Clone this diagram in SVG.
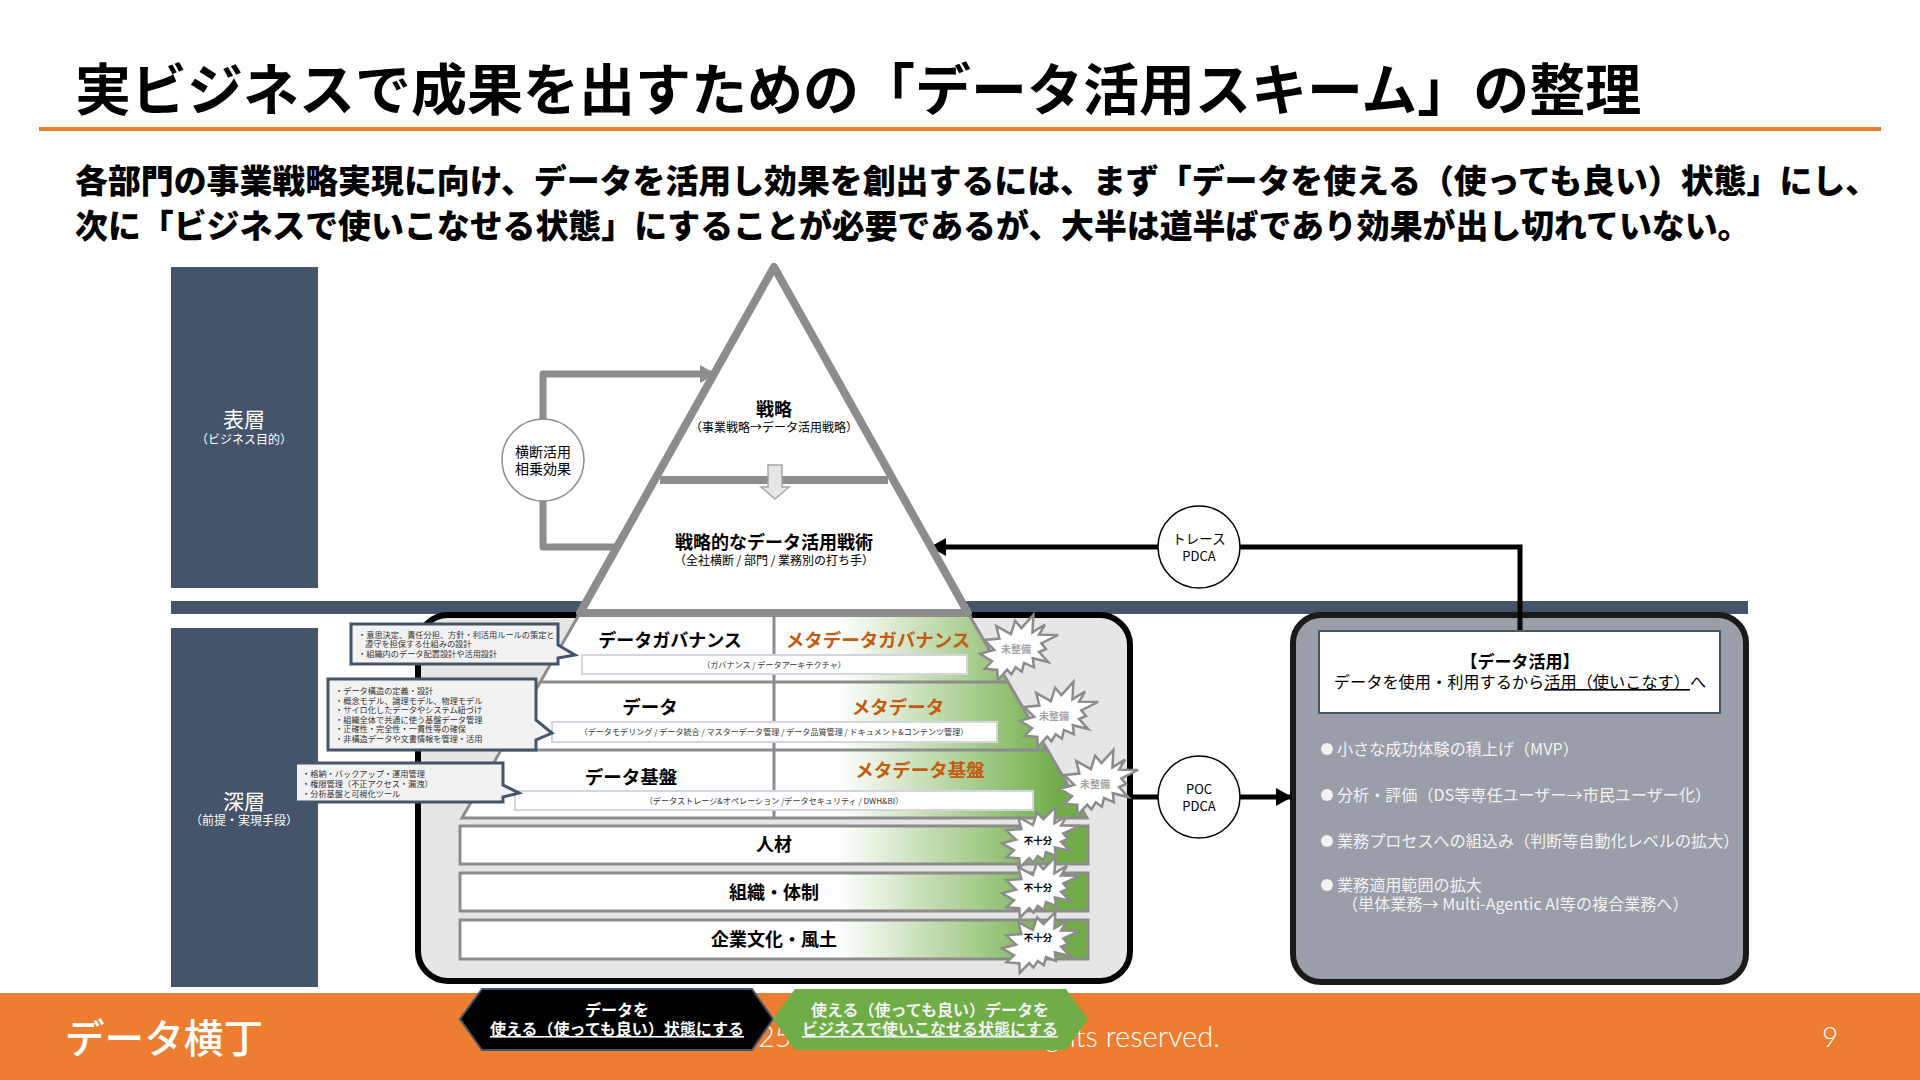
<svg xmlns="http://www.w3.org/2000/svg" width="1920" height="1080" viewBox="0 0 1920 1080">
<style>
text{font-family:"Noto Sans CJK JP","Noto Sans",sans-serif;fill:#000}
.c{text-anchor:middle}
.b{font-weight:700}
.w{fill:#fff}
.side{fill:#44546A}
.lay{stroke:#8c8c8c;stroke-width:3}
.sub{fill:#fff;stroke:#d3d6de;stroke-width:2}
.subt{font-size:8.1px;fill:#333;text-anchor:middle}
.call{fill:#f2f2f2;stroke:#44546A;stroke-width:3}
.callt{font-size:8.2px;fill:#333}
.meta{font-size:18.5px;font-weight:700;fill:#C55A11;text-anchor:middle}
.lt{font-size:18.5px;font-weight:700;text-anchor:middle}
.burst{fill:#fff;stroke:#8c8c8c;stroke-width:2.5}
.circ{fill:#fff;stroke:#000;stroke-width:1.5}
.gl{fill:none;stroke:#8c8c8c;stroke-width:7;stroke-linejoin:round}
.kl{fill:none;stroke:#000;stroke-width:5}
.bl{font-size:16.1px;fill:#f2f2f2}
.lat{font-family:Lato,"Open Sans",sans-serif;font-weight:300}
</style>
<defs>
<linearGradient id="gr" gradientUnits="userSpaceOnUse" x1="838" y1="0" x2="1060" y2="0">
<stop offset="0" stop-color="#fff"/><stop offset="1" stop-color="#70AD47"/>
</linearGradient>
<polygon id="burst" vector-effect="non-scaling-stroke" points="11462,4342 14790,0 14525,5777 18007,3172 16380,6532 21600,6645 16985,9402 18270,11290 16380,12310 18877,15632 14640,14350 14942,17370 12180,15935 11612,18842 9872,17370 8700,19712 7527,18125 4917,21600 4805,18240 1285,17825 3330,15370 0,12877 3935,11592 1172,8270 5372,7817 4502,3625 8550,6382 9722,1887"/>
<marker id="ka" markerUnits="userSpaceOnUse" markerWidth="20" markerHeight="20" refX="16" refY="9" orient="auto"><path d="M0,0L16,9L0,18z" fill="#000"/></marker>
<marker id="ga" markerUnits="userSpaceOnUse" markerWidth="20" markerHeight="20" refX="16" refY="9" orient="auto"><path d="M0,0L16,9L0,18z" fill="#8c8c8c"/></marker>
</defs>
<rect width="1920" height="1080" fill="#fff"/>

<g id="header">
<text x="75" y="110" font-size="56" font-weight="700">実ビジネスで成果を出すための「データ活用スキーム」の整理</text>
<rect x="39" y="127" width="1842" height="4" fill="#ED7D31"/>
<text x="75" y="193" font-size="32.9" font-weight="900">各部門の事業戦略実現に向け、データを活用し効果を創出するには、まず「データを使える（使っても良い）状態」にし、</text>
<text x="75" y="238" font-size="32.9" font-weight="900">次に「ビジネスで使いこなせる状態」にすることが必要であるが、大半は道半ばであり効果が出し切れていない。</text>
</g>

<g id="footer">
<rect x="0" y="993" width="1920" height="87" fill="#ED7D31"/>
<text x="65" y="1053" font-size="40" font-weight="500" class="w" textLength="198" lengthAdjust="spacingAndGlyphs">データ横丁</text>
<text x="758" y="1047" font-size="29" class="w lat">25</text>
<text x="1220" y="1047" font-size="29" class="w lat" style="text-anchor:end">rights reserved.</text>
<text x="1830" y="1047" font-size="28" class="w c lat">9</text>
</g>

<g id="layer-surface">
<rect class="side" x="171" y="267" width="147" height="321"/>
<text x="244" y="427" font-size="21" class="w c">表層</text>
<text x="244" y="444" font-size="12" class="w c">（ビジネス目的）</text>
</g>
<g id="layer-deep">
<rect class="side" x="171" y="628" width="147" height="359"/>
<text x="244" y="809" font-size="21" class="w c">深層</text>
<text x="244" y="825" font-size="12" class="w c">（前提・実現手段）</text>
</g>
<rect id="divider" class="side" x="171" y="601" width="1577" height="13"/>

<g id="foundation-panel">
<rect x="418" y="615" width="712" height="366" rx="30" fill="#e7e6e6" stroke="#000" stroke-width="6"/>
</g>

<g id="data-panel">
<rect x="1293" y="615" width="453" height="367" rx="28" fill="#9a9ea9" stroke="#1a1a1a" stroke-width="6"/>
</g>

<g id="connectors">
<path class="gl" d="M543,419V374H716" marker-end="url(#ga)"/>
<path class="gl" d="M543,501V547H622"/>
<path class="kl" d="M1520,631V547H930" marker-end="url(#ka)"/>
<path class="kl" d="M1130,797H1292" marker-end="url(#ka)"/>
</g>

<g id="layers">
<polygon points="580,613 968,613 1007,682 540,682" fill="url(#gr)"/>
<polygon points="540,682 1007,682 1047,750 501,750" fill="url(#gr)"/>
<polygon points="501,750 1047,750 1087,818 462,818" fill="url(#gr)"/>
<path class="lay" fill="none" d="M580,613L462,818H1087L968,613M540,682H1007M501,750H1047M774,613V818"/>
</g>

<g id="pyramid">
<polygon points="774,267 968,613 580,613" fill="#fff" stroke="#8c8c8c" stroke-width="8" stroke-linejoin="round"/>
<line x1="660" y1="480" x2="888" y2="480" stroke="#8c8c8c" stroke-width="8"/>
<polygon points="768,465 782,465 782,487 789,487 775,499 761,487 768,487" fill="#e7e6e6" stroke="#a6a6a6" stroke-width="1.5"/>
<text x="774" y="416" font-size="18" font-weight="700" class="c">戦略</text>
<text x="774" y="432" font-size="12" class="c" fill="#333">（事業戦略→データ活用戦略）</text>
<text x="774" y="549" font-size="18" font-weight="700" class="c">戦略的なデータ活用戦術</text>
<text x="774" y="565" font-size="12" class="c">（全社横断 / 部門 / 業務別の打ち手）</text>
</g>

<g id="row-governance">
<rect class="sub" x="582" y="655" width="385" height="19"/>
<text x="670" y="647" class="lt" style="font-size:18px">データガバナンス</text>
<text x="878" y="647" class="meta">メタデータガバナンス</text>
<text x="774" y="668" class="subt">（ガバナンス / データアーキテクチャ）</text>
</g>
<g id="row-data">
<rect class="sub" x="552" y="722" width="445" height="20"/>
<text x="650" y="714" class="lt">データ</text>
<text x="898" y="714" class="meta">メタデータ</text>
<text x="774" y="735" class="subt">（データモデリング / データ統合 / マスターデータ管理 / データ品質管理 / ドキュメント&amp;コンテンツ管理）</text>
</g>
<g id="row-platform">
<rect class="sub" x="515" y="791" width="518" height="19"/>
<text x="631" y="784" class="lt">データ基盤</text>
<text x="920" y="777" class="meta">メタデータ基盤</text>
<text x="774" y="804" class="subt">（データストレージ&amp;オペレーション /データセキュリティ / DWH&amp;BI）</text>
</g>

<g id="bar-people">
<rect class="lay" fill="url(#gr)" x="460" y="826" width="628" height="38"/>
<text x="774" y="851" font-size="18" font-weight="700" class="c">人材</text>
</g>
<g id="bar-org">
<rect class="lay" fill="url(#gr)" x="460" y="873" width="628" height="38"/>
<text x="774" y="899" font-size="18" font-weight="700" class="c">組織・体制</text>
</g>
<g id="bar-culture">
<rect class="lay" fill="url(#gr)" x="460" y="920" width="628" height="39"/>
<text x="774" y="946" font-size="18" font-weight="700" class="c">企業文化・風土</text>
</g>

<g id="burst-1"><use href="#burst" class="burst" transform="translate(980,615) scale(.00361,.00301)"/><text x="1016" y="653" font-size="10" font-weight="700" style="fill:#a6a6a6" class="c">未整備</text></g>
<g id="burst-2"><use href="#burst" class="burst" transform="translate(1020,682) scale(.00361,.00301)"/><text x="1054" y="720" font-size="10" font-weight="700" style="fill:#a6a6a6" class="c">未整備</text></g>
<g id="burst-3"><use href="#burst" class="burst" transform="translate(1060,750) scale(.00361,.00301)"/><text x="1095" y="788" font-size="10" font-weight="700" style="fill:#a6a6a6" class="c">未整備</text></g>
<g id="burst-4"><use href="#burst" class="burst" transform="translate(1002,807) scale(.00361,.00282)"/><text x="1038" y="844" font-size="9.5" font-weight="700" class="c">不十分</text></g>
<g id="burst-5"><use href="#burst" class="burst" transform="translate(1002,857) scale(.00361,.00282)"/><text x="1038" y="891" font-size="9.5" font-weight="700" class="c">不十分</text></g>
<g id="burst-6"><use href="#burst" class="burst" transform="translate(1002,912) scale(.00361,.00282)"/><text x="1038" y="941" font-size="9.5" font-weight="700" class="c">不十分</text></g>

<g id="callout-governance">
<polygon class="call" points="351,624 558,624 558,645 575,655 558,658 558,664 351,664"/>
<text class="callt" x="358" y="638">・意思決定、責任分担、方針・利活用ルールの策定と</text>
<text class="callt" x="365" y="647">遵守を担保する仕組みの設計</text>
<text class="callt" x="358" y="657">・組織内のデータ配置設計や活用設計</text>
</g>
<g id="callout-data">
<polygon class="call" points="328,679 536,679 536,720 552,733 536,740 536,750 328,750"/>
<text class="callt" x="335" y="694">・データ構造の定義・設計</text>
<text class="callt" x="335" y="703.500">・概念モデル、論理モデル、物理モデル</text>
<text class="callt" x="335" y="713">・サイロ化したデータやシステム紐づけ</text>
<text class="callt" x="335" y="722.500">・組織全体で共通に使う基盤データ管理</text>
<text class="callt" x="335" y="732">・正確性・完全性・一貫性等の確保</text>
<text class="callt" x="335" y="741.500">・非構造データや文書情報を管理・活用</text>
</g>
<g id="callout-platform">
<polygon points="297,763 503,763 503,785 519,793 503,797 503,802 297,802" fill="#f2f2f2"/>
<path fill="none" stroke="#44546A" stroke-width="3" d="M297,763H503V785L519,793L503,797V802H297"/>
<text class="callt" x="302" y="777">・格納・バックアップ・運用管理</text>
<text class="callt" x="302" y="787">・権限管理（不正アクセス・漏洩）</text>
<text class="callt" x="302" y="797">・分析基盤と可視化ツール</text>
</g>

<g id="node-synergy">
<circle class="circ" cx="543" cy="460" r="41" style="stroke:#8c8c8c"/>
<text x="543" y="457" font-size="14" class="c">横断活用</text>
<text x="543" y="474" font-size="14" class="c">相乗効果</text>
</g>
<g id="node-trace">
<circle class="circ" cx="1199" cy="547" r="41"/>
<text x="1199" y="544" font-size="13.5" class="c">トレース</text>
<text x="1199" y="561" font-size="13" class="c">PDCA</text>
</g>
<g id="node-poc">
<circle class="circ" cx="1199" cy="797" r="41"/>
<text x="1199" y="794" font-size="13" class="c">POC</text>
<text x="1199" y="811" font-size="13" class="c">PDCA</text>
</g>

<g id="data-use">
<rect x="1319" y="631" width="401" height="82" fill="#fff" stroke="#44546A" stroke-width="2"/>
<text x="1520" y="668" font-size="17" font-weight="700" class="c">【データ活用】</text>
<text x="1520" y="688" font-size="16.2" class="c">データを使用・利用するから<tspan text-decoration="underline">活用（使いこなす）</tspan>へ</text>
<circle cx="1327" cy="749" r="6" fill="#f2f2f2"/>
<text class="bl" x="1337" y="755">小さな成功体験の積上げ（MVP）</text>
<circle cx="1327" cy="795" r="6" fill="#f2f2f2"/>
<text class="bl" x="1337" y="801">分析・評価（DS等専任ユーザー→市民ユーザー化）</text>
<circle cx="1327" cy="841" r="6" fill="#f2f2f2"/>
<text class="bl" x="1337" y="847">業務プロセスへの組込み（判断等自動化レベルの拡大）</text>
<circle cx="1327" cy="885" r="6" fill="#f2f2f2"/>
<text class="bl" x="1337" y="891">業務適用範囲の拡大</text>
<text class="bl" x="1342" y="910">（単体業務→ Multi-Agentic AI等の複合業務へ）</text>
</g>

<g id="hex-usable">
<polygon points="460,1019 482,989 752,989 773,1019 752,1050 482,1050" fill="#000" stroke="#44546A" stroke-width="2"/>
<text x="617" y="1016" font-size="16" font-weight="700" class="w c">データを</text>
<text x="617" y="1035" font-size="16" font-weight="700" class="w c" text-decoration="underline">使える（使っても良い）状態にする</text>
</g>
<g id="hex-applied">
<polygon points="773,1019 795,989 1066,989 1088,1019 1066,1050 795,1050" fill="#70AD47"/>
<text x="930" y="1016" font-size="16" font-weight="700" class="c" style="fill:#f2f2f2">使える（使っても良い）データを</text>
<text x="930" y="1035" font-size="16" font-weight="700" class="c" style="fill:#f2f2f2" text-decoration="underline">ビジネスで使いこなせる状態にする</text>
</g>
</svg>
